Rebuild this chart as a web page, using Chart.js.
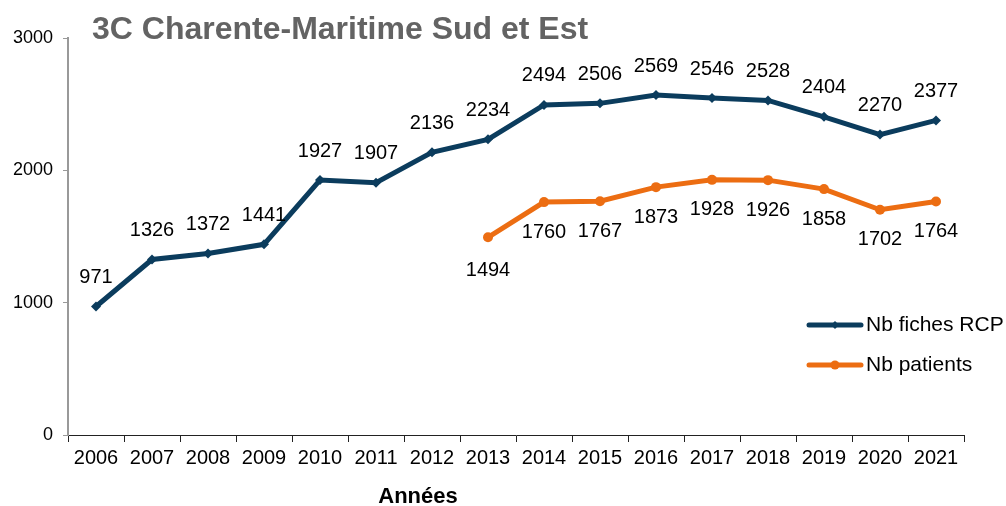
<!DOCTYPE html>
<html>
<head>
<meta charset="utf-8">
<script src="https://cdn.jsdelivr.net/npm/chart.js@4"></script>
<style>
  body { margin: 0; background: #fff; }
  #wrap { width: 1006px; height: 506px; }
</style>
</head>
<body>
<div id="wrap"><canvas id="chart" width="1006" height="506"></canvas></div>
<script>
const years = ['2006', '2007', '2008', '2009', '2010', '2011', '2012', '2013', '2014', '2015', '2016', '2017', '2018', '2019', '2020', '2021'];
const fichesRCP = [971, 1326, 1372, 1441, 1927, 1907, 2136, 2234, 2494, 2506, 2569, 2546, 2528, 2404, 2270, 2377];
const patients = [null, null, null, null, null, null, null, 1494, 1760, 1767, 1873, 1928, 1926, 1858, 1702, 1764];
const yTicks = [0, 1000, 2000, 3000];

const FONT = '"Liberation Sans", Arial, sans-serif';
const navy = '#0b3c5d';
const orange = '#ec6d12';

// libellés de valeurs + titre + légende
const extras = {
  id: 'extras',
  afterDatasetsDraw(chart) {
    const ctx = chart.ctx;
    ctx.save();
    ctx.font = '20px ' + FONT;
    ctx.fillStyle = '#000';
    ctx.textAlign = 'center';
    ctx.textBaseline = 'middle';
    chart.getDatasetMeta(0).data.forEach((pt, i) => {
      ctx.fillText(fichesRCP[i], pt.x, pt.y - 29);
    });
    chart.getDatasetMeta(1).data.forEach((pt, i) => {
      if (patients[i] == null) return;
      const off = i === 7 ? 33 : 30;
      ctx.fillText(patients[i], pt.x, pt.y + off);
    });

    // titre d'axe
    ctx.font = 'bold 22px ' + FONT;
    ctx.fillText('Années', 418, 497);

    // titre
    ctx.font = 'bold 32px ' + FONT;
    ctx.fillStyle = '#636363';
    ctx.textAlign = 'left';
    ctx.fillText('3C Charente-Maritime Sud et Est', 92, 30);

    // légende
    const items = [
      { label: chart.data.datasets[0].label, color: navy, style: 'rectRot', y: 325 },
      { label: chart.data.datasets[1].label, color: orange, style: 'circle', y: 365 }
    ];
    items.forEach(it => {
      ctx.strokeStyle = it.color;
      ctx.lineWidth = 5;
      ctx.lineCap = 'round';
      ctx.beginPath();
      ctx.moveTo(809, it.y);
      ctx.lineTo(861, it.y);
      ctx.stroke();
      ctx.fillStyle = it.color;
      ctx.beginPath();
      if (it.style === 'circle') {
        ctx.arc(835, it.y, 4.5, 0, Math.PI * 2);
      } else {
        ctx.moveTo(835, it.y - 4); ctx.lineTo(839, it.y); ctx.lineTo(835, it.y + 4); ctx.lineTo(831, it.y);
        ctx.closePath();
      }
      ctx.fill();
      ctx.fillStyle = '#000';
      ctx.font = '21px ' + FONT;
      ctx.fillText(it.label, 866, it.y);
    });
    ctx.restore();
  }
};

new Chart(document.getElementById('chart'), {
  type: 'line',
  data: {
    labels: years,
    datasets: [{
      label: 'Nb fiches RCP',
      data: fichesRCP,
      borderColor: navy,
      backgroundColor: navy,
      borderWidth: 5,
      pointStyle: 'rectRot',
      pointRadius: 5,
      pointBorderWidth: 0,
      tension: 0
    }, {
      label: 'Nb patients',
      data: patients,
      borderColor: orange,
      backgroundColor: orange,
      borderWidth: 5,
      pointStyle: 'circle',
      pointRadius: 5,
      pointBorderWidth: 0,
      spanGaps: false,
      tension: 0
    }]
  },
  options: {
    responsive: false,
    animation: false,
    layout: { padding: { top: 38, right: 42, left: 0, bottom: 0 } },
    plugins: {
      legend: { display: false },
      tooltip: { enabled: false }
    },
    scales: {
      x: {
        offset: true,
        grid: { offset: true, drawOnChartArea: false, drawTicks: true, tickLength: 7, color: '#222' },
        border: { color: '#222', width: 1 },
        ticks: { color: '#000', font: { family: FONT, size: 20 }, padding: 4, maxRotation: 0, autoSkip: false },
        afterFit(scale) { scale.height = 71; }
      },
      y: {
        min: 0,
        max: 3000,
        afterBuildTicks(scale) { scale.ticks = yTicks.map(v => ({ value: v })); },
        grid: { drawOnChartArea: false, drawTicks: true, tickLength: 5, color: '#999' },
        border: { color: '#999', width: 2 },
        ticks: { color: '#000', font: { family: FONT, size: 18 }, padding: 10, callback: v => String(v) },
        afterFit(scale) { scale.width = 68; }
      }
    }
  },
  plugins: [extras]
});
</script>
</body>
</html>
